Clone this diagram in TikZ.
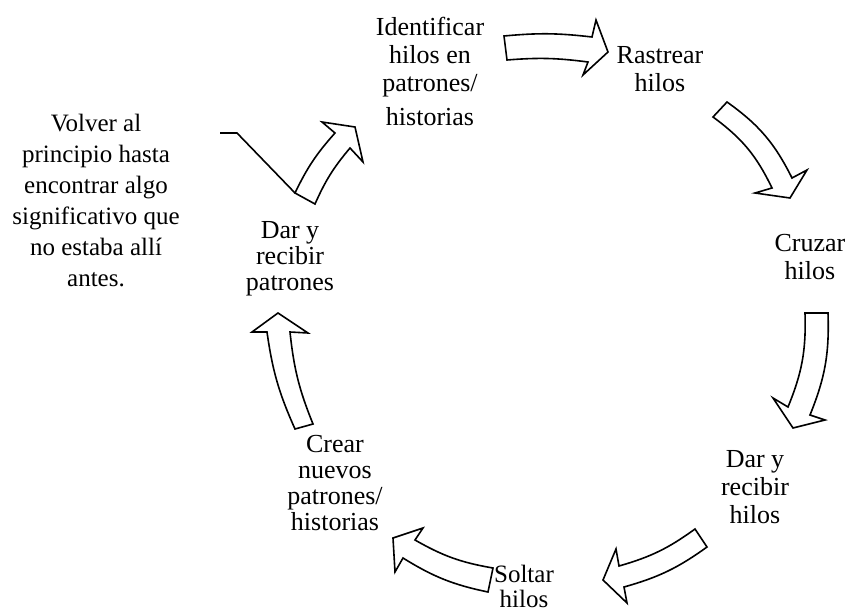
\documentclass[tikz,border=0pt]{standalone}
\usepackage{fontspec}
\setmainfont{Liberation Serif}
\usetikzlibrary{positioning}

\begin{document}
\begin{tikzpicture}[x=1pt,y=-1pt,
        lbl/.style={align=center,inner sep=0pt,font=\fontsize{26}{28}\selectfont},
        blk/.style={draw,fill=white,line width=1.6pt,line join=miter}]
        \useasboundingbox (0,0) rectangle (847,613);
        \node[lbl] (ident) at (430,71) {Identificar\\hilos en\\patrones/\\[6pt]historias};
        \node[lbl] (rastr) at (660,69) {Rastrear\\hilos};
        \node[lbl] (cruz) at (810,257) {Cruzar\\hilos};
        \node[lbl] (darh) at (755,487) {Dar y\\recibir\\hilos};
        \node[lbl,font=\fontsize{25}{25}\selectfont] (solt) at (524,586) {Soltar\\hilos};
        \node[lbl,font=\fontsize{26}{26}\selectfont] (crear) at (335,483) {Crear\\nuevos\\patrones/\\historias};
        \node[lbl,font=\fontsize{26}{26}\selectfont] (darp) at (290,259) {Dar y\\recibir\\patrones};
        \node[lbl,font=\fontsize{25}{31}\selectfont] (volver) at (96,201) {Volver al\\principio hasta\\encontrar algo\\significativo que\\no estaba allí\\antes.};
        % block arrows round the circle
        \draw[blk] (504,36) to[bend left=6] (592,37) -- (596,20) -- (608,52) -- (583,75) -- (588,62) to[bend right=6] (507,60) -- cycle;
        \draw[blk] (727,102) to[bend left=14] (792,178) -- (807,170) -- (790,198) -- (755,193) -- (772,188) to[bend right=14] (713,117) -- cycle;
        \draw[blk] (828,313) to[bend left=12] (810,415) -- (825,420) -- (793,428) -- (773,398) -- (788,407) to[bend right=12] (805,313) -- cycle;
        \draw[blk] (707,547) to[bend left=10] (624,587) -- (627,603) -- (603,580) -- (616,549) -- (619,566) to[bend right=10] (695,529) -- cycle;
        \draw[blk] (488,592) to[bend left=10] (403,558) -- (395,572) -- (393,538) -- (423,528) -- (415,540) to[bend right=10] (493,568) -- cycle;
        \draw[blk] (295,429) to[bend left=8] (267,332) -- (252,332) -- (278,313) -- (308,333) -- (290,332) to[bend right=8] (313,424) -- cycle;
        \draw[blk] (295,193) to[bend left=8] (335,133) -- (322,122) -- (355,127) -- (363,162) -- (350,148) to[bend right=8] (315,204) -- cycle;
        % back to the start
        \coordinate (v1) at (220,133);
        \coordinate (v2) at (237,133);
        \coordinate (v3) at (295,193);
        \draw[line width=1.6pt] (v1) -- (v2) -- (v3);
\end{tikzpicture}
\end{document}
